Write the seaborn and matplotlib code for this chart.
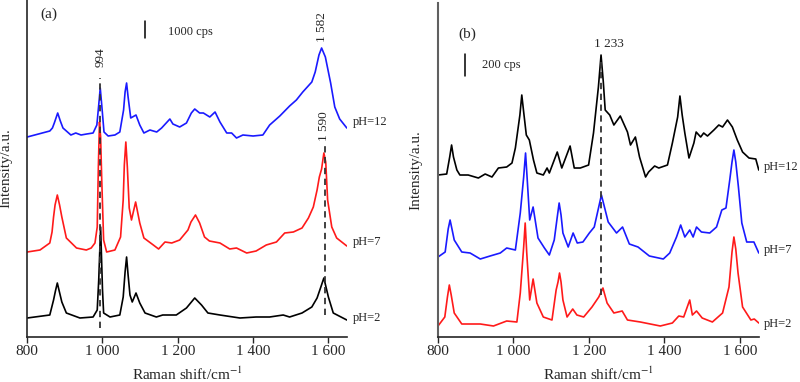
import numpy as np
import pandas as pd
import matplotlib
matplotlib.use('Agg')
import matplotlib.pyplot as plt
import seaborn as sns

# Panel (a) spectra: Raman shift (cm-1) and intensity (a.u., stacked)
a_ph12_x = [800, 860, 867, 872, 881, 888, 895, 916, 929, 943, 958, 975, 985, 990, 994, 998, 1004,
            1015, 1033, 1046, 1056, 1060, 1064, 1068, 1075, 1089, 1099, 1110, 1126, 1144, 1157,
            1179, 1187, 1205, 1223, 1236, 1245, 1258, 1268, 1285, 1299, 1312, 1330, 1343, 1356,
            1373, 1400, 1426, 1444, 1471, 1497, 1515, 1532, 1556, 1565, 1575, 1582, 1592, 1606,
            1617, 1630, 1649]
a_ph12_y = [200, 206, 209, 214, 224, 216, 209, 202, 204, 202, 203, 204, 212, 232, 249, 232, 205,
            201, 202, 205, 227, 245, 254, 240, 219, 222, 212, 204, 207, 205, 209,
            218, 213, 210, 214, 224, 228, 224, 224, 220, 225, 215, 204, 204, 199,
            202, 201, 202, 212, 221, 231, 237, 245, 255, 265, 282, 289, 280, 254,
            230, 218, 209]

a_ph7_x = [800, 834, 860, 866, 870, 874, 880, 886, 892, 904, 931, 957, 970, 980, 986, 989, 992,
           995, 998, 1003, 1011, 1033, 1048, 1055, 1058, 1062, 1066, 1071, 1077, 1088, 1099,
           1110, 1135, 1149, 1166, 1184, 1205, 1227, 1235, 1247, 1258, 1271, 1284, 1312, 1338,
           1356, 1383, 1408, 1435, 1462, 1484, 1507, 1530, 1547, 1560, 1570, 1576, 1582, 1588,
           1593, 1598, 1609, 1622, 1649]
a_ph7_y = [85, 87, 94, 105, 120, 132, 142, 132, 120, 99, 89, 87, 89, 94, 110, 170, 215,
           200, 157, 97, 85, 87, 100, 137, 172, 195, 170, 129, 117, 135, 114,
           99, 92, 88, 95, 94, 97, 107, 115, 122, 114, 100, 96, 94, 88,
           89, 84, 86, 92, 95, 104, 105, 109, 119, 130, 147, 160, 168, 184,
           175, 137, 110, 99, 91]

a_ph2_x = [800, 860, 870, 875, 880, 885, 892, 904, 940, 975, 986, 990, 995, 1000, 1003, 1020,
           1046, 1055, 1060, 1064, 1068, 1073, 1079, 1089, 1099, 1113, 1143, 1160, 1196, 1223,
           1245, 1263, 1280, 1312, 1365, 1408, 1444, 1480, 1497, 1530, 1556, 1570, 1580, 1588,
           1600, 1613, 1649]
a_ph2_y = [19, 22, 37, 46, 54, 46, 35, 24, 19, 20, 27, 57, 110, 47, 24, 20,
           22, 40, 65, 80, 62, 42, 35, 44, 34, 24, 20, 22, 22, 29,
           39, 32, 24, 22, 19, 20, 20, 22, 20, 24, 30, 39, 50, 59,
           40, 24, 17]

# Panel (b) spectra
b_ph12_x = [800, 823, 831, 836, 841, 850, 858, 880, 907, 925, 943, 960, 982, 996, 1005, 1017,
            1022, 1027, 1034, 1042, 1053, 1062, 1079, 1089, 1095, 1116, 1128, 1150, 1161, 1177,
            1199, 1212, 1225, 1232, 1238, 1243, 1255, 1266, 1283, 1302, 1310, 1323, 1334, 1350,
            1358, 1374, 1385, 1408, 1421, 1435, 1441, 1447, 1454, 1465, 1478, 1484, 1496, 1504,
            1514, 1531, 1544, 1554, 1567, 1580, 1593, 1607, 1624, 1642, 1650]
b_ph12_y = [162, 163, 180, 192, 180, 167, 162, 162, 159, 163, 160, 169, 170, 174, 189, 222,
            242, 225, 202, 197, 177, 164, 162, 169, 164, 185, 169, 191, 169, 169,
            172, 204, 250, 282, 255, 227, 222, 212, 221, 205, 192, 200, 180, 160,
            165, 171, 169, 172, 194, 220, 241, 222, 204, 179, 194, 205, 200, 204,
            201, 207, 212, 210, 217, 210, 197, 185, 179, 178, 167]

b_ph7_x = [800, 819, 827, 832, 837, 843, 863, 885, 912, 938, 965, 982, 1005, 1018, 1027, 1032,
           1036, 1043, 1052, 1065, 1082, 1095, 1108, 1116, 1121, 1126, 1131, 1145, 1158, 1169,
           1184, 1201, 1214, 1233, 1251, 1273, 1289, 1307, 1330, 1360, 1397, 1414, 1432, 1443,
           1454, 1467, 1476, 1485, 1498, 1520, 1538, 1552, 1563, 1573, 1579, 1584, 1589, 1596,
           1605, 1618, 1637, 1650]
b_ph7_y = [80, 85, 108, 117, 108, 97, 85, 84, 78, 81, 84, 89, 87, 124, 160, 184,
           160, 117, 130, 99, 89, 82, 97, 120, 134, 122, 104, 90, 104, 94,
           95, 104, 110, 142, 115, 104, 110, 93, 90, 81, 78, 84, 100, 112,
           100, 107, 100, 110, 105, 104, 110, 127, 129, 157, 175, 187, 175, 150,
           114, 95, 95, 84]

b_ph2_x = [800, 818, 825, 830, 835, 843, 863, 912, 947, 982, 1009, 1018, 1027, 1031, 1035, 1043,
           1052, 1062, 1079, 1102, 1113, 1118, 1122, 1126, 1131, 1142, 1157, 1168, 1186, 1208,
           1226, 1237, 1248, 1266, 1288, 1302, 1336, 1389, 1421, 1438, 1451, 1467, 1474, 1485,
           1500, 1527, 1554, 1571, 1579, 1584, 1589, 1595, 1607, 1629, 1638, 1650]
b_ph2_y = [11, 20, 40, 52, 42, 24, 13, 13, 11, 16, 15, 44, 90, 114, 85, 37,
           58, 34, 20, 17, 47, 55, 64, 55, 37, 20, 28, 22, 20, 30,
           40, 49, 34, 24, 26, 17, 15, 11, 14, 21, 20, 37, 22, 26,
           19, 15, 24, 50, 85, 100, 88, 64, 30, 17, 18, 14]

labels = ['pH=12', 'pH=7', 'pH=2']
label_y_a = [215, 95, 19]
label_y_b = [170, 87, 13]
colors_a = ['#1a1aff', '#ff1a1a', 'black']
colors_b = ['black', '#1a1aff', '#ff1a1a']

sns.set_style('ticks')
plt.rcParams['font.family'] = ['Liberation Serif', 'DejaVu Serif']
plt.rcParams['mathtext.fontset'] = 'stix'

fig = plt.figure(figsize=(8, 3.82), dpi=100)
ax_a = fig.add_axes([0.034, 0.1178, 0.4, 0.8822])
ax_b = fig.add_axes([0.5475, 0.1178, 0.401, 0.8743])


def draw_panel(ax, series, colors, label_y, label_x):
    for (xs, ys), c, lab, ly in zip(series, colors, labels, label_y):
        df = pd.DataFrame({'shift': xs, 'intensity': ys})
        sns.lineplot(data=df, x='shift', y='intensity', color=c, lw=1.2, ax=ax, sort=False)
        ax.text(label_x, ly, lab, fontsize=9, ha='left', va='center', clip_on=False)
    ax.set_xlim(800, 1650)
    ax.set_xticks([800, 1000, 1200, 1400, 1600])
    ax.set_xticklabels(['800', '1 000', '1 200', '1 400', '1 600'], fontsize=11)
    ax.set_yticks([])
    ax.set_xlabel('Raman shift/cm$^{-1}$', fontsize=11)
    ax.set_ylabel('Intensity/a.u.', fontsize=11)
    ax.xaxis.set_label_coords(0.5, -0.085)
    ax.yaxis.set_label_coords(-0.047, 0.5)
    ax.tick_params(axis='x', direction='out', length=4, width=1, pad=2)
    for s in ['top', 'right']:
        ax.spines[s].set_visible(False)
    ax.spines['left'].set_linewidth(1.2)
    ax.spines['bottom'].set_linewidth(1.2)
    ax.set_facecolor('white')


draw_panel(ax_a, [(a_ph12_x, a_ph12_y), (a_ph7_x, a_ph7_y), (a_ph2_x, a_ph2_y)],
           colors_a, label_y_a, 1665)
ax_a.set_ylim(0, 337)
ax_a.plot([994, 994], [9, 259], ls=(0, (3.5, 2.5)), color='#333333', lw=1.3)
ax_a.plot([1590, 1590], [22, 195], ls=(0, (3.5, 2.5)), color='#333333', lw=1.3)
ax_a.text(994, 270, '994', rotation=90, fontsize=9.5, ha='center', va='bottom')
ax_a.text(1583, 295, '1 582', rotation=90, fontsize=9.5, ha='center', va='bottom')
ax_a.text(1588, 196, '1 590', rotation=90, fontsize=9.5, ha='center', va='bottom')
ax_a.plot([1113, 1113], [299, 316], color='black', lw=1.1)
ax_a.text(1174, 305, '1000 cps', fontsize=9, ha='left', va='center')
ax_a.text(834, 323, '(a)', fontsize=11, ha='left', va='center')

draw_panel(ax_b, [(b_ph12_x, b_ph12_y), (b_ph7_x, b_ph7_y), (b_ph2_x, b_ph2_y)],
           colors_b, label_y_b, 1663)
ax_b.set_ylim(0, 334)
ax_b.spines['left'].set_color('#606060')
ax_b.spines['left'].set_linewidth(1.5)
ax_b.yaxis.set_label_coords(-0.05, 0.5)
ax_b.plot([1233, 1233], [42, 275], ls=(0, (3.5, 2.5)), color='#333333', lw=1.3)
ax_b.text(1252, 293, '1 233', fontsize=9.5, ha='center', va='center')
ax_b.plot([872, 872], [261, 283], color='black', lw=1.1)
ax_b.text(917, 272, '200 cps', fontsize=9, ha='left', va='center')
ax_b.text(853, 303, '(b)', fontsize=11, ha='left', va='center')

fig.savefig('out.png', dpi=100, facecolor='white')
